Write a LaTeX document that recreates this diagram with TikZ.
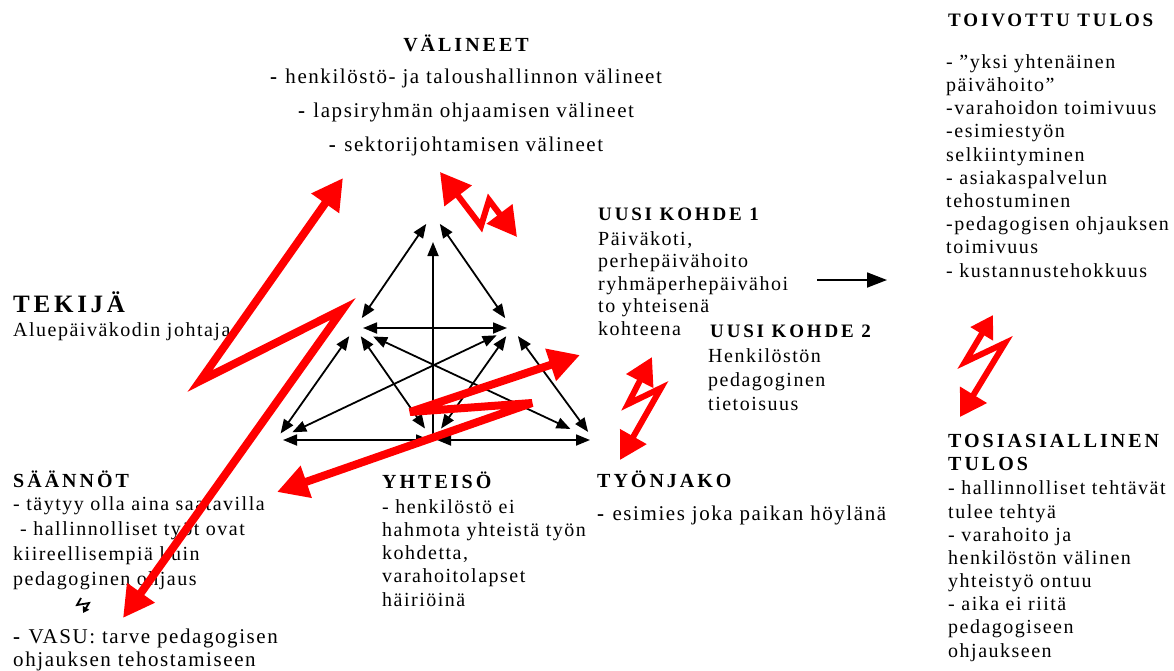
\documentclass[tikz,border=0pt]{standalone}
\usepackage{fontspec}
\setmainfont{Liberation Serif}
\newfontfamily\bodyfont[LetterSpace=7.5]{Liberation Serif}
\newfontfamily\headfont[LetterSpace=15]{Liberation Serif}
\usetikzlibrary{arrows.meta}

\begin{document}
\begin{tikzpicture}[x=1pt, y=-1pt,
    txt/.style={font=\bodyfont\fontsize{20}{23}\selectfont, align=left, anchor=base west, inner sep=0pt},
    head/.style={font=\headfont\bfseries\fontsize{20}{23}\selectfont, align=left, anchor=base west, inner sep=0pt},
    link/.style={line width=1.8pt, {Triangle[length=14pt,width=11pt]}-{Triangle[length=14pt,width=11pt]}},
    bolt/.style={red, line width=8pt, miter limit=5, {Triangle[length=31pt,width=32pt]}-{Triangle[length=31pt,width=32pt]}},
    thinbolt/.style={red, line width=6pt, miter limit=4, {Triangle[length=27pt,width=29pt]}-{Triangle[length=27pt,width=29pt]}}]
    \useasboundingbox (0,0) rectangle (1174,670);

    % Tools (multi-line nodes sit on their last baseline)
    \node[head, anchor=base] (valineet) at (466,51) {VÄLINEET};
    \node[txt, align=center, anchor=base, font=\bodyfont\fontsize{21}{34}\selectfont] (tools) at (466,151)
        {\textbf{-} henkilöstö- ja taloushallinnon välineet\\
         \textbf{-} lapsiryhmän ohjaamisen välineet\\
         \textbf{-} sektorijohtamisen välineet};

    % Subject
    \node[head, font=\headfont\bfseries\fontsize{25}{30}\selectfont] (tekija) at (13,312) {TEKIJÄ};
    \node[txt] (johtaja) at (13,336) {Aluepäiväkodin johtaja};

    % Rules
    \node[head] (saannot) at (13,487) {SÄÄNNÖT};
    \node[txt, font=\bodyfont\fontsize{20}{24.7}\selectfont] (rules) at (13,585)
        {- täytyy olla aina saatavilla\\
         \hspace*{7pt}- hallinnolliset työt ovat\\
         kiireellisempiä kuin\\
         pedagoginen ohjaus};
    \node[txt, font=\bodyfont\fontsize{21}{23}\selectfont] (vasu) at (13,666)
        {\textbf{-} VASU: tarve pedagogisen\\ohjauksen tehostamiseen};
    \draw[line width=1.8pt, -{Triangle[length=6pt,width=7pt]}] (81,598) -- (77,605) -- (89,603) -- (83,613);

    % Community
    \node[head] (yhteiso) at (382,488) {YHTEISÖ};
    \node[txt, font=\bodyfont\fontsize{20}{23.25}\selectfont] (community) at (382,606)
        {- henkilöstö ei\\hahmota yhteistä työn\\kohdetta,\\varahoitolapset\\häiriöinä};

    % Division of labour
    \node[head] (tyonjako) at (597,487) {TYÖNJAKO};
    \node[txt, font=\bodyfont\fontsize{21}{23}\selectfont] (labour) at (597,520) {\textbf{-} esimies joka paikan höylänä};

    % Objects
    \node[head, font=\headfont\bfseries\fontsize{19}{23}\selectfont] (kohde1) at (598,220) {UUSI KOHDE 1};
    \node[txt, font=\bodyfont\fontsize{20}{22.5}\selectfont] (object1) at (598,335)
        {Päiväkoti,\\perhepäivähoito\\ryhmäperhepäivähoi\\to yhteisenä\\kohteena};
    \node[head, font=\headfont\bfseries\fontsize{19}{23}\selectfont] (kohde2) at (710,337) {UUSI KOHDE 2};
    \node[txt, font=\bodyfont\fontsize{20}{24}\selectfont] (object2) at (708,410)
        {Henkilöstön\\pedagoginen\\tietoisuus};

    % Outcomes
    \node[head, font=\headfont\bfseries\fontsize{19}{23}\selectfont] (toivottu) at (948,26) {TOIVOTTU TULOS};
    \node[txt, font=\bodyfont\fontsize{20}{23.2}\selectfont] (hoped) at (946,277)
        {- ”yksi yhtenäinen\\päivähoito”\\-varahoidon toimivuus\\-esimiestyön\\selkiintyminen\\
         - asiakaspalvelun\\tehostuminen\\-pedagogisen ohjauksen\\toimivuus\\- kustannustehokkuus};
    \node[head] (tosiasiallinen) at (948,470) {TOSIASIALLINEN\\TULOS};
    \node[txt, font=\bodyfont\fontsize{20}{23.15}\selectfont] (actual) at (948,657)
        {- hallinnolliset tehtävät\\tulee tehtyä\\- varahoito ja\\henkilöstön välinen\\
         yhteistyö ontuu\\- aika ei riitä\\pedagogiseen\\ohjaukseen};

    % Object towards outcome
    \coordinate (goal from) at (817,280);
    \coordinate (goal to) at (887,280);
    \draw[line width=1.8pt, -{Triangle[length=20pt,width=15pt]}] (goal from) -- (goal to);

    % Triangle corners
    \coordinate (T)  at (433,214);
    \coordinate (ML) at (355,328);
    \coordinate (MR) at (512,328);
    \coordinate (BL) at (276,440);
    \coordinate (BM) at (433,440);
    \coordinate (BR) at (594,440);

    % Triangle links
    \draw[link, shorten <=12pt, shorten >=12pt] (T) -- (ML);
    \draw[link, shorten <=12pt, shorten >=12pt] (T) -- (MR);
    \draw[link, shorten <=8pt, shorten >=5pt] (ML) -- (MR);
    \draw[line width=1.8pt, -{Triangle[length=14pt,width=11pt]}, shorten <=6pt, shorten >=28pt] (BM) -- (T);
    \draw[link, shorten <=10pt, shorten >=8pt] (ML) -- (BL);
    \draw[link, shorten <=10pt, shorten >=14pt] (ML) -- (BM);
    \draw[link, shorten <=20pt, shorten >=26pt] (ML) -- (BR);
    \draw[link, shorten <=17pt, shorten >=18pt] (MR) -- (BL);
    \draw[link, shorten <=10pt, shorten >=14pt] (MR) -- (BM);
    \draw[link, shorten <=10pt, shorten >=10pt] (MR) -- (BR);
    \draw[link, shorten <=7pt, shorten >=3pt] (BL) -- (BM);
    \draw[link, shorten <=4pt, shorten >=4pt] (BM) -- (BR);

    % Contradictions
    \coordinate (c1a) at (343,178);
    \coordinate (c1b) at (123,618);
    \draw[bolt] (c1a) -- (200,381) -- (343,309) -- (c1b);
    \coordinate (c2a) at (277,492);
    \coordinate (c2b) at (580,355);
    \draw[bolt] (c2a) -- (532,403) -- (410,412) -- (c2b);
    \coordinate (c3a) at (440,172);
    \coordinate (c3b) at (517,237);
    \draw[thinbolt, {Triangle[length=30pt,width=33pt]}-{Triangle[length=29pt,width=31pt]}] (c3a) -- (481,226) -- (489,200) -- (c3b);
    \coordinate (c4a) at (652,357);
    \coordinate (c4b) at (620,460);
    \draw[thinbolt] (c4a) -- (628,404) -- (661,388) -- (c4b);
    \coordinate (c5a) at (993,315);
    \coordinate (c5b) at (960,417);
    \draw[thinbolt, {Triangle[length=22pt,width=25pt]}-{Triangle[length=26pt,width=30pt]}] (c5a) -- (965,362) -- (1005,343) -- (c5b);
\end{tikzpicture}
\end{document}
